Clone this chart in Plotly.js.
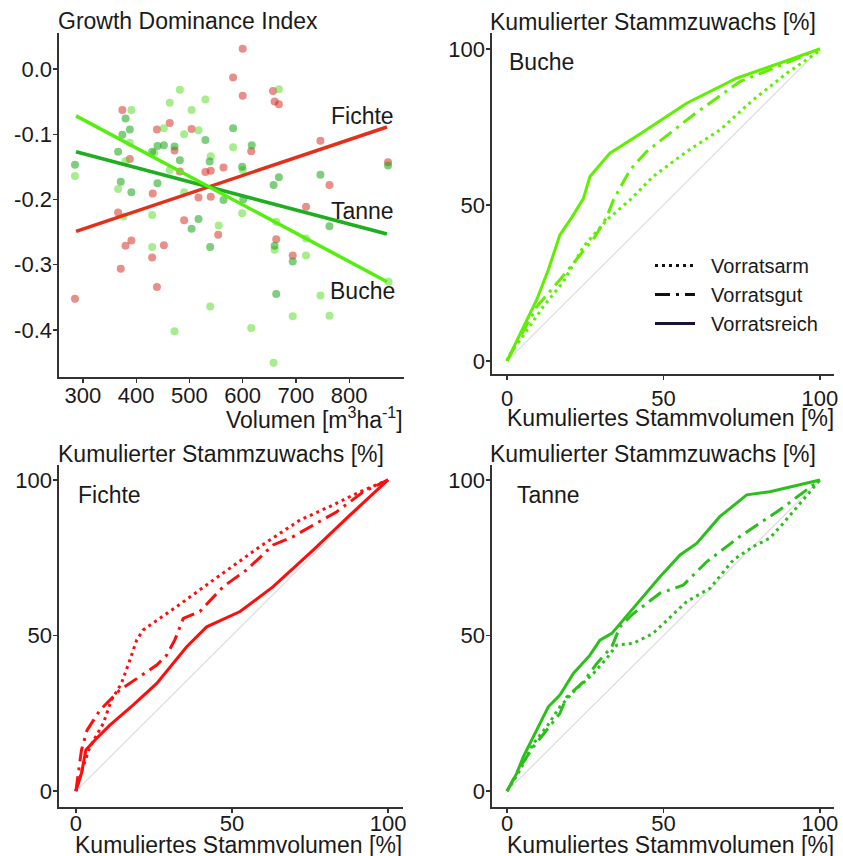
<!DOCTYPE html>
<html>
<head>
<meta charset="utf-8">
<script src="https://cdn.plot.ly/plotly-3.0.1.min.js"></script>
<style>html,body{margin:0;padding:0;background:#fff;}#chart{width:843px;height:856px;}</style>
</head>
<body>
<div id="chart"></div>
<script>
// ---------- Panel A: Growth Dominance Index vs. Volumen ----------
const fichteVol = [600,582,600,657,660,668,374,439,463,504,616,388,472,482,564,530,540,746,763,873,431,517,540,719,490,366,554,663,694,430,452,380,391,371,439,285];
const fichteGDI = [0.031,-0.013,-0.041,-0.034,-0.050,-0.054,-0.063,-0.093,-0.083,-0.092,-0.126,-0.138,-0.125,-0.157,-0.151,-0.158,-0.156,-0.110,-0.178,-0.143,-0.191,-0.197,-0.196,-0.211,-0.232,-0.220,-0.254,-0.261,-0.286,-0.289,-0.270,-0.271,-0.263,-0.306,-0.334,-0.352];
const bucheVol = [668,482,463,530,504,391,452,517,490,582,434,388,463,540,600,285,366,490,599,430,376,555,663,660,719,719,874,746,694,763,616,472,539,658,430,380];
const bucheGDI = [-0.031,-0.032,-0.052,-0.047,-0.063,-0.063,-0.091,-0.094,-0.100,-0.120,-0.129,-0.113,-0.155,-0.134,-0.155,-0.164,-0.184,-0.189,-0.221,-0.224,-0.226,-0.240,-0.234,-0.277,-0.260,-0.286,-0.326,-0.347,-0.379,-0.378,-0.397,-0.402,-0.364,-0.450,-0.273,-0.141];
const tanneVol = [380,388,374,582,530,617,440,452,472,430,366,482,538,599,668,658,746,873,285,371,391,440,564,601,517,504,660,763,694,663,539];
const tanneGDI = [-0.076,-0.093,-0.101,-0.091,-0.109,-0.117,-0.118,-0.117,-0.119,-0.127,-0.127,-0.140,-0.142,-0.150,-0.166,-0.178,-0.162,-0.148,-0.147,-0.173,-0.189,-0.175,-0.201,-0.200,-0.230,-0.245,-0.271,-0.241,-0.295,-0.345,-0.273];
// fitted trend lines (end points)
const trendVol = [287, 871];
const fichteTrend = [-0.249, -0.089];
const tanneTrend = [-0.127, -0.253];
const bucheTrend = [-0.072, -0.326];
const gdiTickVals = [0.0, -0.1, -0.2, -0.3, -0.4];
const gdiTickText = ["0.0", "-0.1", "-0.2", "-0.3", "-0.4"];
const volTickVals = [300, 400, 500, 600, 700, 800];

// ---------- Cumulative curves ----------
const diag = [0, 100];
// Buche
const bucheReichX = [0, 7.3, 9.5, 13.2, 16.9, 20.7, 24.4, 26.5, 32.9, 42, 57.4, 73.4, 100];
const bucheReichY = [0, 14.7, 19.6, 29.2, 40.4, 46.0, 52.0, 59.1, 66.6, 72.4, 82.6, 90.6, 100];
const bucheGutX = [0, 3.1, 9.5, 16.9, 23.3, 28.1, 31.9, 34, 39.3, 44.6, 59.5, 74.4, 85.1, 100];
const bucheGutY = [0, 5.7, 17.4, 26, 34, 39.8, 46.2, 51.6, 61.2, 67.1, 78.8, 89.5, 93.8, 100];
const bucheArmX = [0, 0.4, 4.2, 11.6, 18, 24.4, 31.9, 39.3, 46.7, 57.4, 68, 78.7, 89.4, 100];
const bucheArmY = [0, 1.4, 6.7, 17.4, 25.4, 36.6, 45.2, 51.6, 59.1, 67.1, 74, 83.7, 92.2, 99.5];
// Fichte
const fichteReichX = [0, 1.8, 3.2, 6.6, 10.9, 18.4, 25.9, 31.2, 35.5, 41.9, 52.6, 63.2, 76.1, 87.8, 100];
const fichteReichY = [0, 5.7, 13.2, 16.9, 21.2, 27.7, 34.6, 41, 46.4, 52.8, 57.7, 65.7, 77.5, 88.7, 100];
const fichteGutX = [0, 1.8, 3.6, 7.7, 14.1, 19.5, 25.9, 29.1, 31.7, 34.4, 39.7, 47.2, 54.7, 63.2, 69.6, 83.6, 92.1, 100];
const fichteGutY = [0, 13.2, 19.6, 26, 32.5, 36.2, 40.5, 43.7, 48.6, 55.5, 57.7, 65.7, 71.1, 79.1, 81.8, 89.8, 96.2, 100];
const fichteArmX = [0, 2.3, 4.5, 8.8, 11.4, 14.6, 17.3, 19.5, 21.6, 32.3, 44, 59, 71.8, 82.5, 91, 100];
const fichteArmY = [0, 7.8, 14.2, 21.8, 29.3, 34.6, 42.1, 48.6, 51.8, 59.3, 67.8, 78.6, 87.1, 92, 96.2, 100];
// Tanne
const tanneReichX = [0, 3.1, 5.2, 9.5, 13.2, 16.9, 21.2, 26.5, 29.7, 33.5, 40.4, 48.9, 55.3, 60.6, 68, 76.6, 84, 100];
const tanneReichY = [0, 5.7, 11, 19.6, 27.1, 30.9, 37.8, 43.7, 48.5, 50.7, 58.7, 68.9, 75.9, 79.6, 88.2, 95.2, 96.2, 100];
const tanneGutX = [0, 4.2, 8.4, 12.7, 16.9, 19.1, 24.4, 28.7, 33.5, 36.1, 40.4, 48.9, 56.3, 63.8, 74.4, 87.2, 100];
const tanneGutY = [0, 7.8, 14.2, 19.6, 25, 30.3, 35.1, 41, 46.4, 52.8, 57.1, 63.6, 66.2, 73.7, 81.8, 90.4, 100];
const tanneArmX = [0, 4.2, 8.4, 12.7, 16.9, 21.2, 27.6, 31.9, 35, 40.4, 46.7, 57.4, 64.9, 72.3, 78.7, 84, 88.3, 100];
const tanneArmY = [0, 6.8, 15.3, 20.7, 27.1, 31.9, 37.8, 42.7, 46.9, 47.5, 50.7, 60.9, 65.2, 74.3, 78.6, 81.3, 86.1, 100];
const cumTickVals = [0, 50, 100];
const legendNames = ["Vorratsarm", "Vorratsgut", "Vorratsreich"];

// ---------- styling ----------
const FONT = "Liberation Sans, Arial, sans-serif";
const TXT = "#1a1a1a";
const RED = "#ff0d0d", BUCHE = "#5ef000", TANNE = "#2cbf1c";
const DOT = "3px,4px", DASHDOT = "15px,6px,3px,6px";

function sc(x, y, color, xa, ya) {
  return {x, y, type: "scatter", mode: "markers", xaxis: xa, yaxis: ya, showlegend: false, hoverinfo: "skip",
    marker: {size: 8, color: color, line: {width: 0}}};
}
function ln(x, y, color, width, dash, xa, ya) {
  return {x, y, type: "scatter", mode: "lines", xaxis: xa, yaxis: ya, showlegend: false, hoverinfo: "skip",
    line: {color: color, width: width, dash: dash}};
}

const traces = [
  sc(fichteVol, fichteGDI, "rgba(214,30,20,0.5)", "x", "y"),
  sc(bucheVol, bucheGDI, "rgba(80,220,30,0.5)", "x", "y"),
  sc(tanneVol, tanneGDI, "rgba(20,165,20,0.55)", "x", "y"),
  ln(trendVol, fichteTrend, "#e3301a", 3.5, "solid", "x", "y"),
  ln(trendVol, tanneTrend, "#1fae1f", 3.5, "solid", "x", "y"),
  ln(trendVol, bucheTrend, "#55ee11", 3.5, "solid", "x", "y"),
  // Buche
  ln(diag, diag, "#dddddd", 1.2, "solid", "x2", "y2"),
  ln(bucheArmX, bucheArmY, BUCHE, 3, DOT, "x2", "y2"),
  ln(bucheGutX, bucheGutY, BUCHE, 3, DASHDOT, "x2", "y2"),
  ln(bucheReichX, bucheReichY, BUCHE, 3, "solid", "x2", "y2"),
  // Fichte
  ln(diag, diag, "#dddddd", 1.2, "solid", "x3", "y3"),
  ln(fichteArmX, fichteArmY, RED, 3, DOT, "x3", "y3"),
  ln(fichteGutX, fichteGutY, RED, 3, DASHDOT, "x3", "y3"),
  ln(fichteReichX, fichteReichY, RED, 3, "solid", "x3", "y3"),
  // Tanne
  ln(diag, diag, "#dddddd", 1.2, "solid", "x4", "y4"),
  ln(tanneArmX, tanneArmY, TANNE, 3, DOT, "x4", "y4"),
  ln(tanneGutX, tanneGutY, TANNE, 3, DASHDOT, "x4", "y4"),
  ln(tanneReichX, tanneReichY, TANNE, 3, "solid", "x4", "y4"),
];
// legend entries (line type only)
const legDash = [DOT, DASHDOT, "solid"];
const legColor = ["#111111", "#111111", "#14143a"];
legendNames.forEach((n, i) => {
  traces.push({x: [null], y: [null], type: "scatter", mode: "lines", name: "\u00a0\u00a0" + n, xaxis: "x2", yaxis: "y2",
    showlegend: true, hoverinfo: "skip", line: {color: legColor[i], width: 3, dash: legDash[i]}});
});

const W = 843, H = 856;
const px = v => v / W, py = v => 1 - v / H;

function axis(domain, range, tickvals, anchor, standoff, ticktext) {
  const a = {domain: domain, range: range, anchor: anchor, tickvals: tickvals, tickmode: "array",
    showgrid: false, zeroline: false, ticklabelstandoff: standoff,
    showline: true, linecolor: "#333333", linewidth: 1.6, ticks: "outside", ticklen: 4, tickwidth: 1.3,
    tickcolor: "#333333", tickfont: {family: FONT, size: 22, color: TXT}, fixedrange: true};
  if (ticktext) { a.ticktext = ticktext; }
  return a;
}

function ann(text, x, y, xanchor, size) {
  return {text: text, x: px(x), y: py(y), xref: "paper", yref: "paper", xanchor: xanchor, yanchor: "middle",
    showarrow: false, font: {family: FONT, size: size || 23, color: TXT}};
}

const layout = {
  width: W, height: H, margin: {l: 0, r: 0, t: 0, b: 0},
  paper_bgcolor: "#ffffff", plot_bgcolor: "#ffffff",
  showlegend: true,
  legend: {x: px(650), y: py(246), xanchor: "left", yanchor: "top", bgcolor: "rgba(0,0,0,0)",
    font: {family: FONT, size: 20, color: TXT}, itemwidth: 40, tracegroupgap: 0},
  xaxis: axis([px(59), px(404)], [255, 903], volTickVals, "y", -6),
  yaxis: axis([py(377), py(33)], [-0.472, 0.055], gdiTickVals, "x", -3, gdiTickText),
  xaxis2: axis([px(492), px(834)], [-4.8, 104.5], cumTickVals, "y2", 0),
  yaxis2: axis([py(374), py(33)], [-4.2, 105.1], cumTickVals, "x2", -3),
  xaxis3: axis([px(59), px(403)], [-5.4, 104.8], cumTickVals, "y3", -8),
  yaxis3: axis([py(807), py(465)], [-5.1, 104.8], cumTickVals, "x3", -3),
  xaxis4: axis([px(492), px(834)], [-4.8, 104.5], cumTickVals, "y4", -8),
  yaxis4: axis([py(807), py(465)], [-5.1, 104.8], cumTickVals, "x4", -3),
  annotations: [
    ann("Growth Dominance Index", 56, 21, "left"),
    ann("Kumulierter Stammzuwachs [%]", 488, 22, "left"),
    ann("Kumulierter Stammzuwachs [%]", 56, 454, "left"),
    ann("Kumulierter Stammzuwachs [%]", 488, 454, "left"),
    ann("Volumen [m<sup>3</sup>ha<sup>-1</sup>]", 405, 418, "right"),
    ann("Kumuliertes Stammvolumen [%]", 836, 418, "right"),
    ann("Kumuliertes Stammvolumen [%]", 404, 845, "right"),
    ann("Kumuliertes Stammvolumen [%]", 836, 845, "right"),
    ann("Fichte", 396, 116, "right"),
    ann("Tanne", 396, 211, "right"),
    ann("Buche", 397, 291, "right"),
    ann("Buche", 507, 62, "left"),
    ann("Fichte", 76, 495, "left"),
    ann("Tanne", 515, 495, "left"),
  ]
};

Plotly.newPlot("chart", traces, layout, {staticPlot: true, displayModeBar: false});
</script>
</body>
</html>
